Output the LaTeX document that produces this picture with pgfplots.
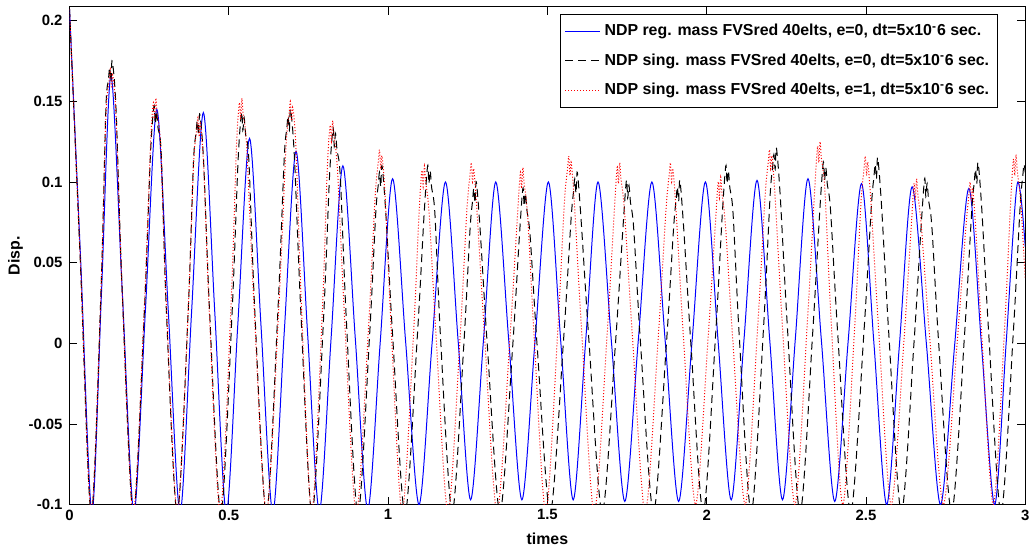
\documentclass[border=0pt]{standalone}
\usepackage{pgfplots}
\pgfplotsset{compat=1.18}
\usepackage{fontspec}
\setmainfont{Liberation Sans}
\begin{document}
\begin{tikzpicture}
\begin{axis}[
  name=ax,
  scale only axis, width=481pt, height=250.5pt,
  xmin=0, xmax=3, ymin=-0.1, ymax=0.2085,
  xtick={0,0.5,1,1.5,2,2.5,3}, xticklabels={0,0.5,1,1.5,2,2.5,3},
  ytick={-0.1,-0.05,0,0.05,0.1,0.15,0.2}, yticklabels={-0.1,-0.05,0,0.05,0.1,0.15,0.2},
  tick align=inside, major tick length=4pt,
  xtick pos=both, ytick pos=both,
  tick style={black, line width=0.4pt},
  axis line style={black, line width=0.5pt},
  every tick label/.append style={font=\fontsize{7.5}{9}\selectfont\bfseries},
  xticklabel style={yshift=1pt},
  xlabel={times}, ylabel={Disp.},
  label style={font=\fontsize{8}{9}\selectfont\bfseries},
  xlabel style={yshift=0.5pt},
  ylabel style={yshift=-4pt},
  legend style={at={(0.971,0.986)}, anchor=north east, fill=white,
    font=\fontsize{8}{9}\selectfont\bfseries, inner xsep=2pt, inner ysep=3pt, row sep=3.5pt},
  legend cell align=left,
  legend image code/.code={\draw[#1] (0pt,0pt) -- (17.5pt,0pt);},
]
\addlegendimage{draw=blue, solid, line width=0.6pt}
\addlegendentry{NDP reg. mass FVSred 40elts, e=0, dt=5x10\textsuperscript{-}6 sec.}
\addlegendimage{draw=black, line width=0.5pt, dash pattern=on 4pt off 2.5pt}
\addlegendentry{NDP sing. mass FVSred 40elts, e=0, dt=5x10\textsuperscript{-}6 sec.}
\addlegendimage{draw=red, line width=0.5pt, dash pattern=on 0.5pt off 1pt}
\addlegendentry{NDP sing. mass FVSred 40elts, e=1, dt=5x10\textsuperscript{-}6 sec.}
\addplot[forget plot, blue, line width=0.5pt, smooth, tension=0.5] coordinates {
(0,0.207) (0.035,0.051) (0.07,-0.105) (0.10,0.03) (0.13,0.166) (0.166,0.03) (0.202,-0.105)
(0.238,0.02) (0.274,0.145) (0.31,0.02) (0.347,-0.105) (0.383,0.019) (0.42,0.143) (0.456,0.019)
(0.492,-0.105) (0.528,0.011) (0.565,0.127) (0.601,0.011) (0.638,-0.105) (0.674,0.007) (0.711,0.119)
(0.747,0.007) (0.784,-0.104) (0.821,0.003) (0.858,0.110) (0.897,0.003) (0.936,-0.103) (0.975,0.0)
(1.014,0.102) (1.055,0.001) (1.097,-0.100) (1.138,0.0) (1.18,0.100) (1.22,0.001) (1.259,-0.097)
(1.299,0.001) (1.338,0.100) (1.379,0.001) (1.42,-0.097) (1.461,0.001) (1.503,0.100) (1.542,0.001)
(1.581,-0.097) (1.62,0.001) (1.659,0.100) (1.701,0.001) (1.743,-0.098) (1.785,0.001) (1.828,0.100)
(1.87,0.001) (1.912,-0.098) (1.954,0.001) (1.996,0.100) (2.036,0.001) (2.077,-0.097) (2.117,0.002)
(2.158,0.101) (2.198,0.002) (2.238,-0.097) (2.278,0.002) (2.318,0.102) (2.36,0.002) (2.402,-0.098)
(2.444,0.001) (2.486,0.099) (2.525,0.0) (2.565,-0.100) (2.605,-0.001) (2.645,0.097) (2.69,-0.001)
(2.734,-0.100) (2.778,-0.002) (2.823,0.096) (2.863,-0.002) (2.904,-0.100) (2.94,0.0) (2.975,0.099)
(3.0,0.06)
};
\addplot[forget plot, black, line width=0.5pt, dash pattern=on 4pt off 2.5pt, smooth, tension=0.5] coordinates {
(0,0.207) (0.034,0.05) (0.068,-0.106) (0.099,0.034)
(0.114,0.145) (0.122,0.163) (0.126,0.171) (0.13,0.162) (0.134,0.175) (0.146,0.145)
(0.165,0.034) (0.20,-0.106) (0.235,0.020)
(0.254,0.117) (0.265,0.147) (0.269,0.136) (0.273,0.144) (0.278,0.133) (0.288,0.117)
(0.304,0.020) (0.338,-0.106) (0.372,0.018)
(0.389,0.112) (0.397,0.130) (0.401,0.138) (0.405,0.129) (0.409,0.142) (0.421,0.112)
(0.44,0.018) (0.475,-0.106) (0.51,0.018)
(0.529,0.113) (0.54,0.143) (0.544,0.132) (0.548,0.140) (0.553,0.129) (0.563,0.113)
(0.582,0.018) (0.618,-0.106) (0.654,0.02)
(0.674,0.115) (0.682,0.133) (0.686,0.141) (0.69,0.132) (0.694,0.145) (0.706,0.115)
(0.726,0.02) (0.761,-0.106) (0.797,0.014)
(0.816,0.103) (0.827,0.133) (0.831,0.122) (0.835,0.130) (0.84,0.119) (0.85,0.103)
(0.869,0.014) (0.905,-0.106) (0.941,0.002)
(0.961,0.080) (0.969,0.098) (0.973,0.106) (0.977,0.097) (0.981,0.110) (0.993,0.080)
(1.015,0.002) (1.053,-0.106) (1.091,0.002)
(1.113,0.080) (1.124,0.110) (1.128,0.099) (1.132,0.107) (1.137,0.096) (1.147,0.080)
(1.165,0.002) (1.201,-0.105) (1.237,-0.003)
(1.257,0.070) (1.265,0.088) (1.269,0.096) (1.273,0.087) (1.277,0.100) (1.289,0.070)
(1.312,-0.003) (1.351,-0.105) (1.39,-0.005)
(1.412,0.066) (1.423,0.096) (1.427,0.085) (1.431,0.093) (1.436,0.082) (1.446,0.066)
(1.469,-0.005) (1.509,-0.105) (1.55,0.0)
(1.574,0.076) (1.582,0.094) (1.586,0.102) (1.59,0.093) (1.594,0.106) (1.606,0.076)
(1.631,0.0) (1.672,-0.105) (1.713,-0.002)
(1.737,0.071) (1.748,0.101) (1.752,0.090) (1.756,0.098) (1.761,0.087) (1.771,0.071)
(1.793,-0.002) (1.833,-0.105) (1.873,-0.002)
(1.896,0.071) (1.904,0.089) (1.908,0.097) (1.912,0.088) (1.916,0.101) (1.928,0.071)
(1.951,-0.002) (1.989,-0.105) (2.027,0.002)
(2.049,0.080) (2.06,0.110) (2.064,0.099) (2.068,0.107) (2.073,0.096) (2.083,0.080)
(2.103,0.002) (2.14,-0.105) (2.178,0.008)
(2.199,0.091) (2.207,0.109) (2.211,0.117) (2.215,0.108) (2.219,0.121) (2.231,0.091)
(2.254,0.008) (2.293,-0.105) (2.332,0.004)
(2.355,0.082) (2.366,0.112) (2.37,0.101) (2.374,0.109) (2.379,0.098) (2.389,0.082)
(2.412,0.004) (2.452,-0.105) (2.493,0.005)
(2.517,0.085) (2.525,0.103) (2.529,0.111) (2.533,0.102) (2.537,0.115) (2.549,0.085)
(2.572,0.005) (2.611,-0.105) (2.65,-0.002)
(2.673,0.072) (2.684,0.102) (2.688,0.091) (2.692,0.099) (2.697,0.088) (2.707,0.072)
(2.729,-0.002) (2.769,-0.105) (2.809,0.004)
(2.832,0.082) (2.84,0.100) (2.844,0.108) (2.848,0.099) (2.852,0.112) (2.864,0.082)
(2.886,0.004) (2.924,-0.105) (2.962,0.005)
(2.984,0.085) (2.992,0.103) (2.996,0.111) (3.0,0.106)
};
\addplot[forget plot, red, line width=0.5pt, dash pattern=on 0.5pt off 1pt, smooth, tension=0.5] coordinates {
(0,0.207) (0.034,0.051) (0.068,-0.105) (0.099,0.033)
(0.114,0.140) (0.124,0.162) (0.128,0.170) (0.132,0.158) (0.136,0.166) (0.146,0.140)
(0.165,0.033) (0.20,-0.105) (0.235,0.024)
(0.254,0.122) (0.263,0.149) (0.267,0.139) (0.271,0.152) (0.275,0.142) (0.286,0.122)
(0.304,0.024) (0.338,-0.105) (0.372,0.018)
(0.389,0.110) (0.399,0.132) (0.403,0.140) (0.407,0.128) (0.411,0.136) (0.421,0.110)
(0.439,0.018) (0.473,-0.105) (0.507,0.024)
(0.524,0.122) (0.533,0.149) (0.537,0.139) (0.541,0.152) (0.545,0.142) (0.556,0.122)
(0.579,0.024) (0.618,-0.105) (0.657,0.023)
(0.679,0.120) (0.689,0.142) (0.693,0.150) (0.697,0.138) (0.701,0.146) (0.711,0.120)
(0.728,0.023) (0.76,-0.105) (0.793,0.017)
(0.809,0.108) (0.818,0.135) (0.822,0.125) (0.826,0.138) (0.83,0.128) (0.841,0.108)
(0.863,0.017) (0.90,-0.105) (0.938,0.008)
(0.959,0.090) (0.969,0.112) (0.973,0.120) (0.977,0.108) (0.981,0.116) (0.991,0.090)
(1.01,0.008) (1.044,-0.105) (1.079,0.003)
(1.097,0.080) (1.106,0.107) (1.11,0.097) (1.114,0.110) (1.118,0.100) (1.129,0.080)
(1.151,0.003) (1.188,-0.105) (1.226,0.004)
(1.247,0.082) (1.257,0.104) (1.261,0.112) (1.265,0.100) (1.269,0.108) (1.279,0.082)
(1.303,0.004) (1.342,-0.105) (1.382,0.002)
(1.406,0.079) (1.415,0.106) (1.419,0.096) (1.423,0.109) (1.427,0.099) (1.438,0.079)
(1.459,0.002) (1.495,-0.105) (1.532,0.006)
(1.553,0.086) (1.563,0.108) (1.567,0.116) (1.571,0.104) (1.575,0.112) (1.585,0.086)
(1.608,0.006) (1.647,-0.105) (1.687,0.004)
(1.71,0.082) (1.719,0.109) (1.723,0.099) (1.727,0.112) (1.731,0.102) (1.742,0.082)
(1.767,0.004) (1.807,-0.105) (1.848,0.004)
(1.872,0.082) (1.882,0.104) (1.886,0.112) (1.89,0.100) (1.894,0.108) (1.904,0.082)
(1.927,0.004) (1.965,-0.100) (2.004,0.002)
(2.027,0.073) (2.036,0.100) (2.04,0.090) (2.044,0.103) (2.048,0.093) (2.059,0.073)
(2.082,0.002) (2.121,-0.100) (2.16,0.01)
(2.183,0.090) (2.193,0.112) (2.197,0.120) (2.201,0.108) (2.205,0.116) (2.215,0.090)
(2.238,0.01) (2.277,-0.100) (2.316,0.013)
(2.339,0.095) (2.348,0.122) (2.352,0.112) (2.356,0.125) (2.36,0.115) (2.371,0.095)
(2.391,0.013) (2.427,-0.100) (2.464,0.008)
(2.484,0.086) (2.494,0.108) (2.498,0.116) (2.502,0.104) (2.506,0.112) (2.516,0.086)
(2.54,0.008) (2.579,-0.100) (2.619,0.001)
(2.642,0.072) (2.651,0.099) (2.655,0.089) (2.659,0.102) (2.663,0.092) (2.674,0.072)
(2.701,0.001) (2.743,-0.100) (2.786,0.0)
(2.813,0.070) (2.823,0.092) (2.827,0.100) (2.831,0.088) (2.835,0.096) (2.845,0.070)
(2.865,0.0) (2.90,-0.100) (2.935,0.009)
(2.954,0.087) (2.963,0.114) (2.967,0.104) (2.971,0.117) (2.975,0.107) (2.986,0.087)
(3.0,0.04)
};
\end{axis}
\path ([xshift=-35pt,yshift=-19.5pt]ax.south west) rectangle ([xshift=2pt,yshift=3.5pt]ax.north east);
\end{tikzpicture}
\end{document}
